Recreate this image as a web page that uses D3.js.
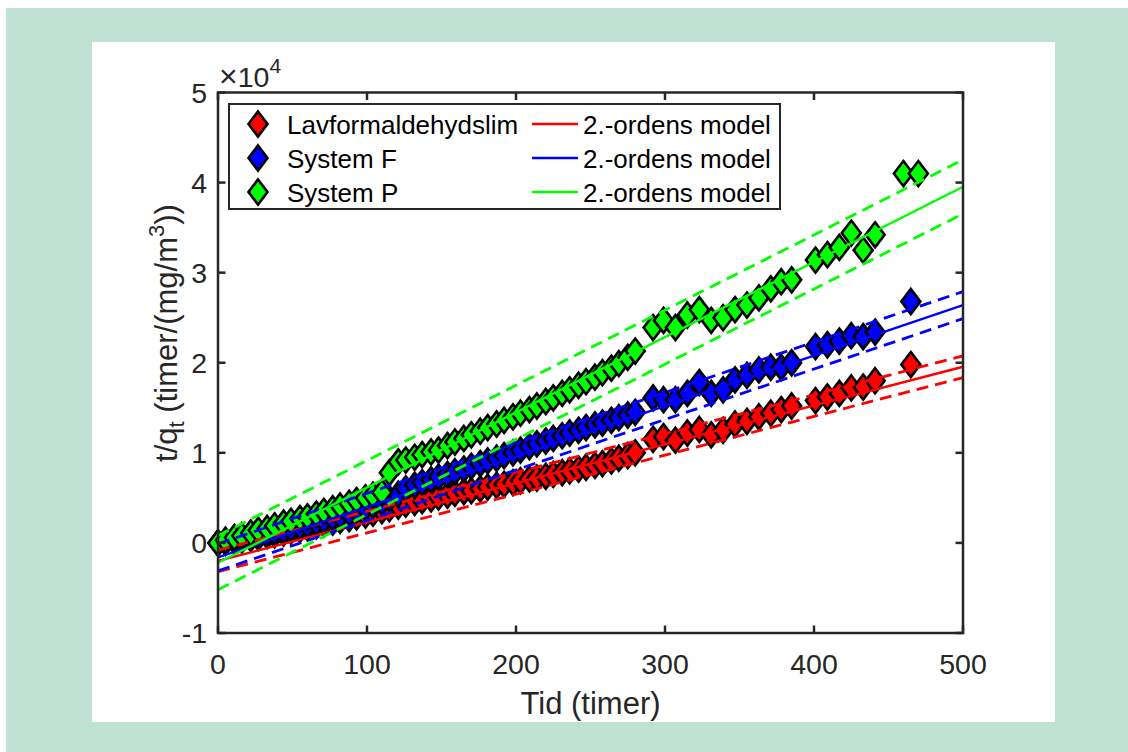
<!DOCTYPE html>
<html>
<head>
<meta charset="utf-8">
<script src="https://cdn.jsdelivr.net/npm/d3@7"></script>
<style>
  body { margin: 0; background: #fff; }
  svg text { font-family: "Liberation Sans", Arial, Helvetica, sans-serif; }
</style>
</head>
<body>
<div id="chart"></div>
<script>

// values are t/q in units of 1e4 (timer/(mg/m^3))
var tDense = [0, 5, 11, 16, 22, 27, 33, 38, 44, 49, 55, 60, 66, 71, 77, 82, 88, 93, 99, 104,
              110, 115, 121, 126, 132, 137, 143, 148, 154, 159, 165, 170, 176, 181, 187, 192,
              198, 203, 209, 214, 220, 225, 231, 236, 242, 247, 253, 258, 264, 269, 275, 280,
              292, 299, 307, 315, 323, 331, 339, 347, 355, 363, 371, 378, 385,
              401, 409, 417, 425, 433, 441];
var tRedBlue = tDense.concat([465]);
var tGreen = tDense.concat([460, 470]);

var redVals = [0, 0.01, 0.02, 0.03, 0.05, 0.06, 0.08, 0.09, 0.11, 0.13, 0.15, 0.17, 0.19, 0.21, 0.23, 0.25, 0.27, 0.29, 0.31, 0.33,
               0.36, 0.38, 0.41, 0.43, 0.45, 0.47, 0.49, 0.51, 0.53, 0.55, 0.57, 0.58, 0.60, 0.62, 0.64, 0.65,
               0.67, 0.69, 0.71, 0.72, 0.74, 0.76, 0.78, 0.80, 0.82, 0.84, 0.86, 0.88, 0.91, 0.94, 0.97, 1.00,
               1.15, 1.18, 1.14, 1.22, 1.26, 1.20, 1.25, 1.32, 1.35, 1.40, 1.44, 1.48, 1.52,
               1.58, 1.62, 1.66, 1.72, 1.73, 1.80, 1.98];

var blueVals = [0, 0.01, 0.03, 0.04, 0.06, 0.08, 0.10, 0.12, 0.14, 0.16, 0.18, 0.20, 0.23, 0.25, 0.28, 0.30, 0.33, 0.36, 0.39, 0.42,
                0.45, 0.49, 0.54, 0.60, 0.64, 0.67, 0.70, 0.73, 0.76, 0.79, 0.82, 0.85, 0.88, 0.91, 0.94, 0.97,
                1.00, 1.03, 1.07, 1.10, 1.13, 1.16, 1.19, 1.22, 1.25, 1.28, 1.31, 1.33, 1.36, 1.39, 1.42, 1.45,
                1.61, 1.59, 1.59, 1.66, 1.78, 1.66, 1.70, 1.81, 1.86, 1.92, 1.95, 1.95, 2.00,
                2.18, 2.20, 2.24, 2.30, 2.29, 2.34, 2.68];

var greenVals = [0, 0.03, 0.06, 0.08, 0.11, 0.14, 0.16, 0.19, 0.22, 0.24, 0.27, 0.29, 0.32, 0.35, 0.38, 0.41, 0.44, 0.47, 0.50, 0.53,
                 0.56, 0.78, 0.90, 0.92, 0.95, 0.98, 1.01, 1.03, 1.08, 1.12, 1.16, 1.20, 1.24, 1.28, 1.32, 1.36,
                 1.40, 1.44, 1.48, 1.52, 1.57, 1.61, 1.66, 1.70, 1.75, 1.79, 1.84, 1.89, 1.94, 1.99, 2.06, 2.13,
                 2.39, 2.47, 2.39, 2.53, 2.59, 2.47, 2.50, 2.59, 2.64, 2.72, 2.82, 2.90, 2.92,
                 3.14, 3.20, 3.28, 3.44, 3.25, 3.42, 4.10, 4.10];

// 2.-ordens model fits, read at t = 0 and t = 500, plus half width of the dashed band
var fitT = [0, 500];
var fitRed = [-0.20, 1.956];
var fitBlue = [-0.16, 2.64];
var fitGreen = [-0.22, 3.954];
var bandRed = 0.12, bandBlue = 0.15, bandGreen = 0.30;

var xTicks = [0, 100, 200, 300, 400, 500];
var yTicks = [-1, 0, 1, 2, 3, 4, 5];
var legendNames = ['Lavformaldehydslim', 'System F', 'System P'];
var legendFitName = '2.-ordens model';

var W = 1128, H = 752;
var plot = { left: 218, right: 963, top: 92.5, bottom: 633 };
var axisColor = '#262626';

var series = [
    { name: legendNames[0], t: tRedBlue, v: redVals, fit: fitRed, band: bandRed, color: '#ff0000' },
    { name: legendNames[1], t: tRedBlue, v: blueVals, fit: fitBlue, band: bandBlue, color: '#0000ff' },
    { name: legendNames[2], t: tGreen, v: greenVals, fit: fitGreen, band: bandGreen, color: '#00ff00' },
];

var svg = d3.select('#chart').append('svg')
    .attr('width', W)
    .attr('height', H);

svg.append('rect').attr('width', W).attr('height', H).attr('fill', '#fff');
svg.append('rect').attr('x', 6).attr('y', 8).attr('width', W - 6).attr('height', H - 8).attr('fill', '#bfe1d3');
svg.append('rect').attr('x', 92).attr('y', 42).attr('width', 963).attr('height', 680).attr('fill', '#fff');

var x = d3.scaleLinear().domain([0, 500]).range([plot.left, plot.right]);
var y = d3.scaleLinear().domain([-1, 5]).range([plot.bottom, plot.top]);

function diamond(cx, cy, hw, hh) {
    return 'M' + cx + ',' + (cy - hh) + 'L' + (cx + hw) + ',' + cy +
           'L' + cx + ',' + (cy + hh) + 'L' + (cx - hw) + ',' + cy + 'Z';
}

// scatter first, fits on top (like the figure)
series.forEach(function (s) {
    var pts = s.t.map(function (t, i) { return { t: t, v: s.v[i] }; });
    svg.append('g').selectAll('path')
        .data(pts)
        .enter()
        .append('path')
        .attr('d', function (d) { return diamond(x(d.t), y(d.v), 9.5, 12.5); })
        .attr('fill', s.color)
        .attr('stroke', '#000')
        .attr('stroke-width', 2.6);
});

var line = d3.line().x(function (d) { return x(d.t); }).y(function (d) { return y(d.v); });

series.forEach(function (s) {
    var solid = fitT.map(function (t, i) { return { t: t, v: s.fit[i] }; });
    var up = fitT.map(function (t, i) { return { t: t, v: s.fit[i] + s.band }; });
    var lo = fitT.map(function (t, i) { return { t: t, v: s.fit[i] - s.band }; });
    svg.append('path').attr('d', line(solid))
        .attr('fill', 'none').attr('stroke', s.color).attr('stroke-width', 2.4);
    [up, lo].forEach(function (b) {
        svg.append('path').attr('d', line(b))
            .attr('fill', 'none').attr('stroke', s.color).attr('stroke-width', 2.8)
            .attr('stroke-dasharray', '12,7');
    });
});

// axes box with inward ticks on all four sides
var axes = svg.append('g');
axes.append('rect')
    .attr('x', plot.left).attr('y', plot.top)
    .attr('width', plot.right - plot.left).attr('height', plot.bottom - plot.top)
    .attr('fill', 'none').attr('stroke', axisColor).attr('stroke-width', 2.5);

var tickLen = 7.5;
xTicks.forEach(function (t) {
    axes.append('line').attr('x1', x(t)).attr('x2', x(t))
        .attr('y1', plot.bottom).attr('y2', plot.bottom - tickLen)
        .attr('stroke', axisColor).attr('stroke-width', 2.5);
    axes.append('line').attr('x1', x(t)).attr('x2', x(t))
        .attr('y1', plot.top).attr('y2', plot.top + tickLen)
        .attr('stroke', axisColor).attr('stroke-width', 2.5);
    axes.append('text').attr('x', x(t)).attr('y', 674)
        .attr('text-anchor', 'middle').attr('font-size', 28.5).attr('fill', axisColor)
        .text(t);
});
yTicks.forEach(function (v) {
    axes.append('line').attr('x1', plot.left).attr('x2', plot.left + tickLen)
        .attr('y1', y(v)).attr('y2', y(v))
        .attr('stroke', axisColor).attr('stroke-width', 2.5);
    axes.append('line').attr('x1', plot.right).attr('x2', plot.right - tickLen)
        .attr('y1', y(v)).attr('y2', y(v))
        .attr('stroke', axisColor).attr('stroke-width', 2.5);
    axes.append('text').attr('x', 207).attr('y', y(v) + 10)
        .attr('text-anchor', 'end').attr('font-size', 28.5).attr('fill', axisColor)
        .text(v);
});

// exponent label
var expo = axes.append('text').attr('x', 219).attr('y', 87).attr('font-size', 28.5).attr('fill', axisColor);
expo.append('tspan').attr('font-size', 32).text('\u00d7');
expo.append('tspan').text('10');
expo.append('tspan').attr('font-size', 21).attr('dy', -14).text('4');

// axis labels
svg.append('text').attr('x', x(250)).attr('y', 714)
    .attr('text-anchor', 'middle').attr('font-size', 31).attr('fill', axisColor)
    .text('Tid (timer)');

var yl = svg.append('text')
    .attr('transform', 'translate(177,333) rotate(-90)')
    .attr('text-anchor', 'middle').attr('font-size', 31).attr('fill', axisColor);
yl.append('tspan').text('t/q');
yl.append('tspan').attr('font-size', 22).attr('dy', 7).text('t');
yl.append('tspan').attr('dy', -7).text(' (timer/(mg/m');
yl.append('tspan').attr('font-size', 22).attr('dy', -13).text('3');
yl.append('tspan').attr('dy', 13).text('))');

// legend
var lg = svg.append('g');
lg.append('rect').attr('x', 229).attr('y', 104).attr('width', 551).attr('height', 105)
    .attr('fill', '#fff').attr('stroke', axisColor).attr('stroke-width', 2);
var rowY = [124, 158, 192];
series.forEach(function (s, i) {
    lg.append('path').attr('d', diamond(258, rowY[i], 9.5, 12.5))
        .attr('fill', s.color).attr('stroke', '#000').attr('stroke-width', 2.6);
    lg.append('text').attr('x', 287).attr('y', rowY[i] + 9.5)
        .attr('font-size', 26).attr('fill', '#000').text(s.name);
    lg.append('line').attr('x1', 532).attr('x2', 578).attr('y1', rowY[i]).attr('y2', rowY[i])
        .attr('stroke', s.color).attr('stroke-width', 2.4);
    lg.append('text').attr('x', 583).attr('y', rowY[i] + 9.5)
        .attr('font-size', 26).attr('fill', '#000').text(legendFitName);
});

</script>
</body>
</html>
